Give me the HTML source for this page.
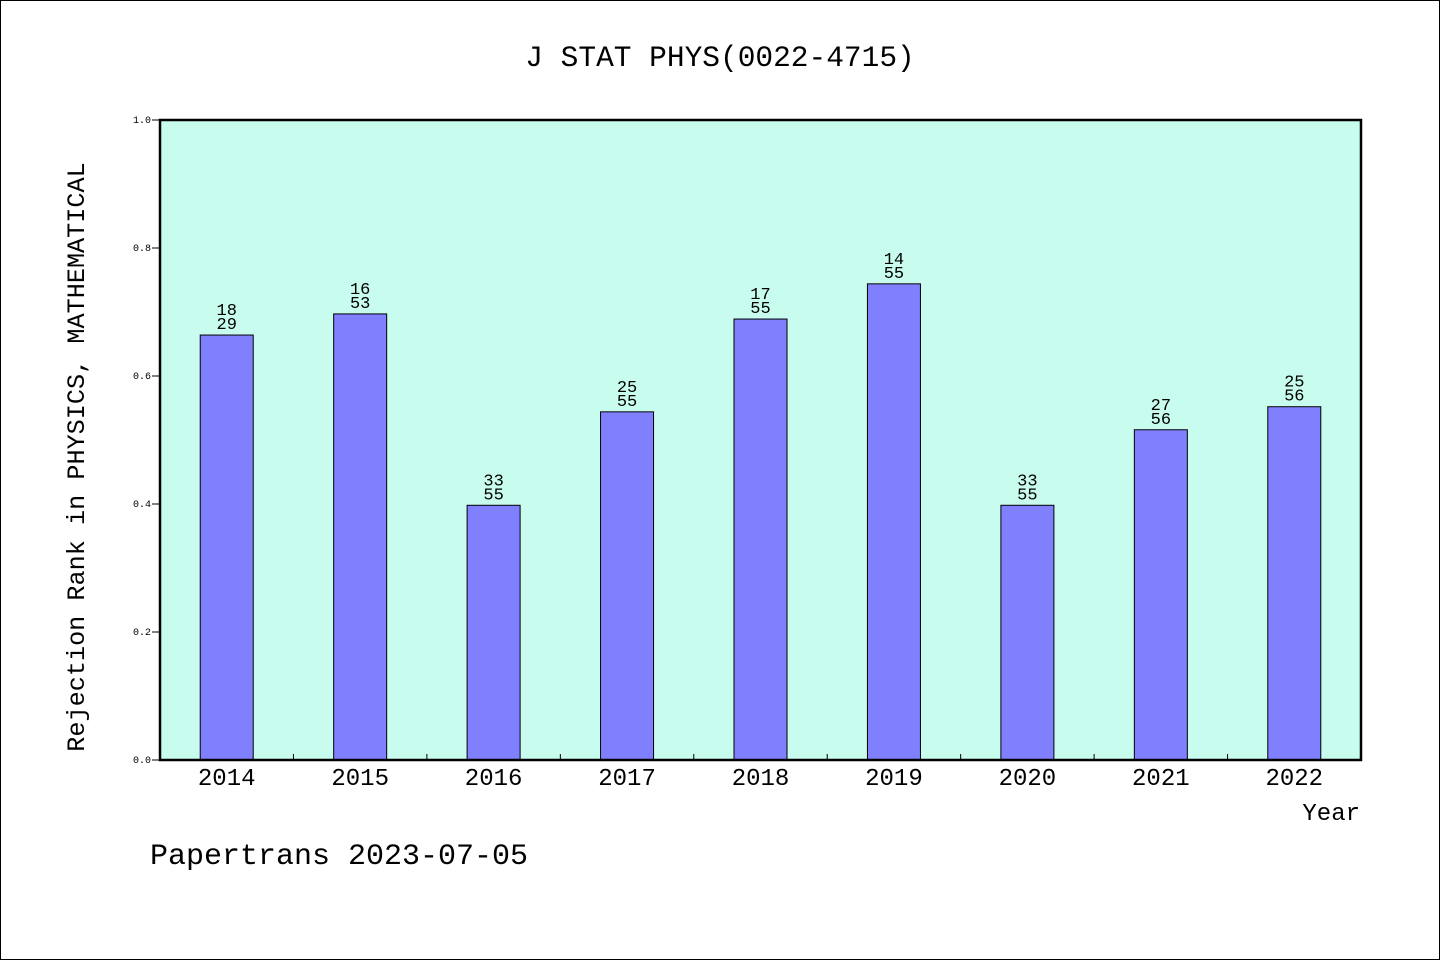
<!DOCTYPE html>
<html><head><meta charset="utf-8"><style>
body{margin:0;background:#fff}
svg{display:block}
text{font-family:"Liberation Mono","WenQuanYi Zen Hei",monospace;fill:#000}
</style></head><body>
<svg id="chart" width="1440" height="960" xmlns="http://www.w3.org/2000/svg">
<rect x="0.5" y="0.5" width="1439" height="959" fill="#fff" stroke="#000"/>
<text x="720" y="66" font-size="29.5" text-anchor="middle">J STAT PHYS(0022-4715)</text>
<rect x="160" y="120" width="1201" height="640" fill="#c8fcee"/>
<g id="bars"></g>
<g id="axes"></g>
<rect x="160" y="120" width="1201" height="640" fill="none" stroke="#000" stroke-width="2.5"/>
<text transform="translate(84,457) rotate(-90)" font-size="25.2" text-anchor="middle">Rejection Rank in PHYSICS, MATHEMATICAL</text>
<text x="1360" y="820" font-size="24" text-anchor="end">Year</text>
<text x="150" y="864" font-size="30">Papertrans 2023-07-05</text>
</svg>
<script>
const categories=["2014","2015","2016","2017","2018","2019","2020","2021","2022"];
const values=[0.664,0.697,0.398,0.544,0.689,0.744,0.398,0.516,0.552];
const ranks=["18","16","33","25","17","14","33","27","25"];
const totals=["29","53","55","55","55","55","55","56","56"];
const yTicks=[0,0.2,0.4,0.6,0.8,1.0];
const yTickLabels=["0.0","0.2","0.4","0.6","0.8","1.0"];
const NS="http://www.w3.org/2000/svg";
const X0=160,X1=1361,Y0=760,Y1=120;
const step=(X1-X0)/categories.length;
function xC(i){return X0+step*(i+0.5);}
function yS(v){return Y0-(Y0-Y1)*v;}
function mk(t,a,p){const e=document.createElementNS(NS,t);for(const k in a)e.setAttribute(k,a[k]);p.appendChild(e);return e;}
const bars=document.getElementById('bars'),axes=document.getElementById('axes');
categories.forEach((c,i)=>{
 const bw=53,y=yS(values[i]);
 const r=mk('rect',{x:xC(i)-bw/2,y:y,width:bw,height:Y0-y,fill:'#8080ff',stroke:'#000','stroke-width':1},bars);
 
 
 const t1=mk('text',{x:xC(i),y:y-20,'font-size':17,'text-anchor':'middle'},bars);t1.textContent=ranks[i];
 
 
 const t2=mk('text',{x:xC(i),y:y-6,'font-size':17,'text-anchor':'middle'},bars);t2.textContent=totals[i];
 
 
 const xl=mk('text',{x:xC(i),y:785,'font-size':24,'text-anchor':'middle'},axes);xl.textContent=c;
 
 
 if(i>0){const tk=mk('line',{x1:X0+step*i,x2:X0+step*i,y1:Y0,y2:Y0-6,stroke:'#000'},axes);
 
 }
});
yTicks.forEach((v,i)=>{
 const tk=mk('line',{x1:X0-8,x2:X0,y1:yS(v),y2:yS(v),stroke:'#000'},axes);
 
 
 const tl=mk('text',{x:X0-9,y:yS(v)+3,'font-size':10,'text-anchor':'end'},axes);tl.textContent=yTickLabels[i];
 
 
});
</script>
</body></html>
